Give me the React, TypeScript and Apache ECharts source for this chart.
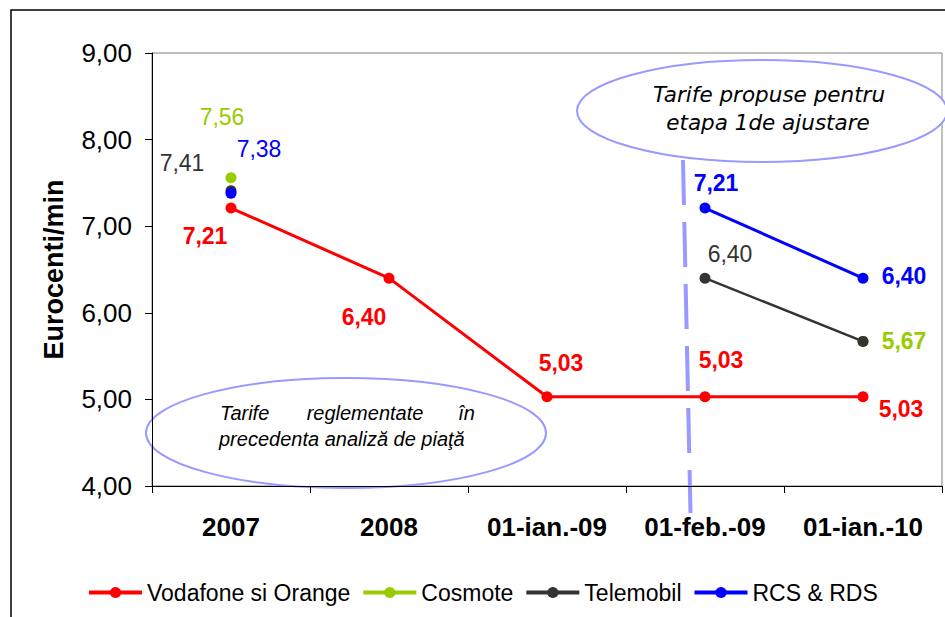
import React, { useEffect, useRef } from "react";
import * as echarts from "echarts";

const categories = ["2007", "2008", "01-ian.-09", "01-feb.-09", "01-ian.-10"];
const seriesNames = ["Vodafone si Orange", "Cosmote", "Telemobil", "RCS & RDS"];
const vodafone = [7.21, 6.4, 5.03, 5.03, 5.03];
const cosmote = [7.56, null, null, null, 5.67];
const telemobil = [7.41, null, null, 6.4, 5.67];
const rcs = [7.38, null, null, 7.21, 6.4];

// label placement [dx, dy, bold] per point (null = no label)
type Lbl = [number, number, boolean] | null;
const vodafoneLabels: Lbl[] = [[-26, 28, true], [-25, 39, true], [14, -34, true], [16, -37, true], [38, 12, true]];
const cosmoteLabels: Lbl[] = [[-9, -61, false], null, null, null, [41, 0, true]];
const telemobilLabels: Lbl[] = [[-49, -28, false], null, null, [25, -24, false], null];
const rcsLabels: Lbl[] = [[28, -44, false], null, null, [11, -25, true], [41, -2, true]];

const colors = ["#FF0000", "#99CC00", "#333333", "#0000FF"];
const lineWidths = [3, 3, 2.5, 3];

const FONT = "'Liberation Sans', Arial, sans-serif";
const fmt = (v: number) => v.toFixed(2).replace(".", ",");

function buildData(values: (number | null)[], labels: Lbl[], color: string) {
  return values.map((v, i) => {
    if (v === null) return "-";
    const l = labels[i];
    return {
      value: v,
      label: l
        ? {
            show: true,
            position: "inside",
            offset: [l[0], l[1]],
            color,
            fontSize: 23,
            fontWeight: l[2] ? "bold" : "normal",
            fontFamily: FONT,
            formatter: (p: any) => fmt(p.value),
          }
        : { show: false },
    };
  });
}

export default function App() {
  const ref = useRef<HTMLDivElement>(null);
  useEffect(() => {
    if (!ref.current) return;
    const chart = echarts.init(ref.current, null, { renderer: "svg" });
    const allValues = [vodafone, cosmote, telemobil, rcs];
    const allLabels = [vodafoneLabels, cosmoteLabels, telemobilLabels, rcsLabels];
    chart.setOption({
      animation: false,
      backgroundColor: "#ffffff",
      grid: {
        left: 152,
        top: 53,
        width: 790,
        height: 433,
        show: true,
        borderColor: "#808080",
        borderWidth: 1,
        containLabel: false,
        outerBoundsMode: "none",
      },
      legend: {
        left: 82,
        top: 576,
        itemWidth: 53,
        itemHeight: 14,
        itemGap: 11,
        lineStyle: { width: 4 },
        textStyle: { fontSize: 23, fontFamily: FONT, color: "#000" },
        data: seriesNames,
      },
      xAxis: {
        type: "category",
        data: categories,
        boundaryGap: true,
        axisLine: { lineStyle: { color: "#000", width: 1 } },
        axisTick: { show: true, length: 7, lineStyle: { color: "#000" } },
        axisLabel: {
          margin: 28,
          fontSize: 26,
          fontWeight: "bold",
          fontFamily: FONT,
          color: "#000",
        },
        splitLine: { show: false },
      },
      yAxis: {
        type: "value",
        min: 4,
        max: 9,
        interval: 1,
        name: "Eurocenti/min",
        nameLocation: "middle",
        nameGap: 85,
        nameRotate: 90,
        nameTextStyle: { fontSize: 27, fontWeight: "bold", fontFamily: FONT, color: "#000" },
        axisLine: { show: true, lineStyle: { color: "#000", width: 1 } },
        axisTick: { show: true, length: 7, lineStyle: { color: "#000" } },
        axisLabel: {
          margin: 20,
          fontSize: 26,
          fontFamily: FONT,
          color: "#000",
          formatter: (v: number) => fmt(v),
        },
        splitLine: { show: false },
      },
      series: seriesNames.map((name, k) => ({
        name,
        type: "line",
        data: buildData(allValues[k], allLabels[k], colors[k]),
        connectNulls: false,
        symbol: "circle",
        symbolSize: 11,
        showSymbol: true,
        color: colors[k],
        itemStyle: { color: colors[k] },
        lineStyle: { color: colors[k], width: lineWidths[k] },
        z: 2 + k,
      })),
      graphic: [
        {
          type: "rect",
          shape: { x: 11, y: 10, width: 1000, height: 1000 },
          style: { fill: "none", stroke: "#000", lineWidth: 1.5 },
          silent: true,
        },
        {
          type: "line",
          shape: { x1: 683, y1: 160, x2: 690.5, y2: 513 },
          style: { stroke: "#9999FF", lineWidth: 4, lineDash: [45, 17] },
          silent: true,
        },
        {
          type: "ellipse",
          shape: { cx: 762, cy: 111, rx: 185, ry: 51 },
          style: { fill: "#ffffff", stroke: "#9999FF", lineWidth: 2 },
          silent: true,
        },
        {
          type: "text",
          x: 769,
          y: 94,
          style: {
            text: "Tarife propuse pentru",
            font: "italic 21.5px 'DejaVu Sans', Verdana, sans-serif",
            fill: "#000",
            align: "center",
            verticalAlign: "middle",
          },
        },
        {
          type: "text",
          x: 768,
          y: 122,
          style: {
            text: "etapa 1de ajustare",
            font: "italic 21.5px 'DejaVu Sans', Verdana, sans-serif",
            fill: "#000",
            align: "center",
            verticalAlign: "middle",
          },
        },
        {
          type: "ellipse",
          shape: { cx: 346, cy: 433, rx: 200, ry: 55 },
          style: { fill: "#ffffff", stroke: "#9999FF", lineWidth: 2 },
          silent: true,
        },
        {
          type: "text",
          x: 220,
          y: 413,
          style: { text: "Tarife", font: "italic 20px " + FONT, fill: "#000", align: "left", verticalAlign: "middle" },
        },
        {
          type: "text",
          x: 365,
          y: 413,
          style: { text: "reglementate", font: "italic 20px " + FONT, fill: "#000", align: "center", verticalAlign: "middle" },
        },
        {
          type: "text",
          x: 475,
          y: 413,
          style: { text: "în", font: "italic 20px " + FONT, fill: "#000", align: "right", verticalAlign: "middle" },
        },
        {
          type: "text",
          x: 219,
          y: 439,
          style: {
            text: "precedenta analiză de piaţă",
            font: "italic 20px " + FONT,
            fill: "#000",
            align: "left",
            verticalAlign: "middle",
          },
        },
      ],
    });
    return () => chart.dispose();
  }, []);
  return (
    <div
      ref={ref}
      style={{ position: "fixed", left: 0, top: 0, width: 945, height: 617, background: "#fff" }}
    />
  );
}
